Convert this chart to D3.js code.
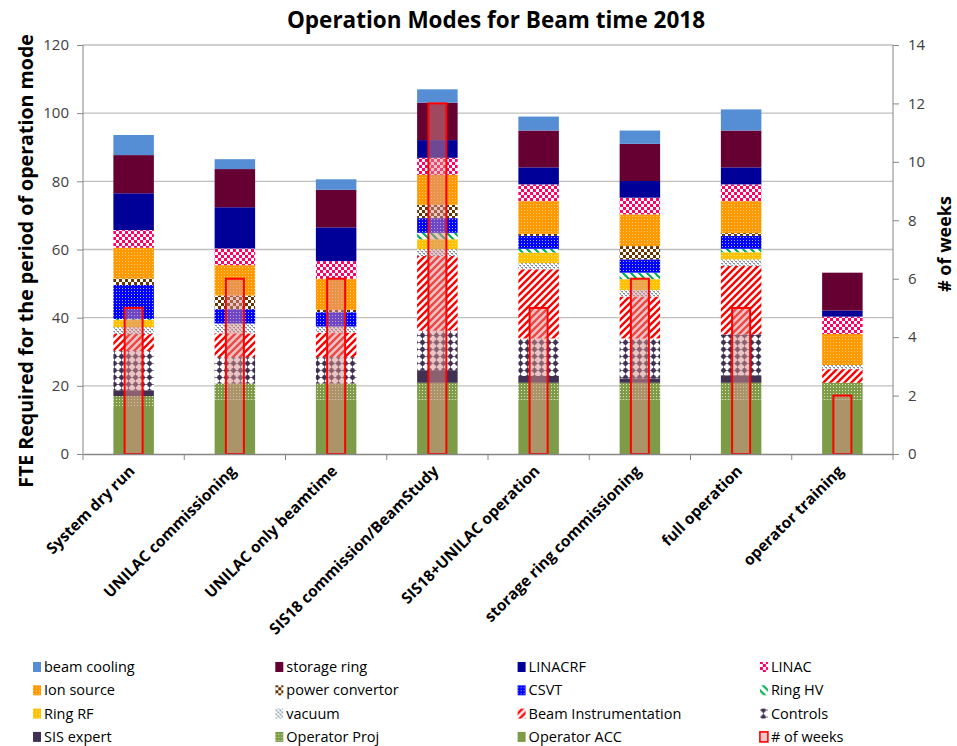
<!DOCTYPE html>
<html>
<head>
<meta charset="utf-8">
<script src="https://cdn.jsdelivr.net/npm/d3@7"></script>
<style>
    body { margin: 0; background: #fff; }
    #plot-canvas { width: 957px; height: 746px; }
    .tick text { font-family: "Open Sans", sans-serif; font-size: 15px; fill: #404040; }
    .label { font-family: "Open Sans", sans-serif; font-weight: bold; fill: #000; }
    .legend text { font-family: "Open Sans", sans-serif; font-size: 14.5px; fill: #000; }
</style>
</head>
<body>
<div id="plot-canvas"></div>
<script>
// categories (x axis)
const modes = ["System dry run", "UNILAC commissioning", "UNILAC only beamtime", "SIS18 commission/BeamStudy",
    "SIS18+UNILAC operation", "storage ring commissioning", "full operation", "operator training"];

// FTE per group, bottom of the stack first
const operatorAcc   = [13.5, 16, 16, 16, 16, 16, 16, 16];
const operatorProj  = [3.5, 4.7, 4.7, 4.9, 4.9, 4.9, 4.9, 4.9];
const sisExpert     = [1.7, 0, 0, 3.5, 2, 1.3, 2.2, 0];
const controls      = [11.5, 7.7, 7.7, 11.8, 11, 11.7, 12, 0];
const beamInstr     = [5, 7, 7.2, 21.9, 20.3, 12.3, 20.1, 4];
const vacuum        = [2, 2.9, 1.8, 2, 1.8, 1.9, 1.9, 1.2];
const ringRF        = [2.1, 0, 0, 2.9, 3.1, 3.2, 2.1, 0];
const ringHV        = [0.3, 0, 0, 1.9, 1.1, 1.9, 1, 0];
const csvt          = [10, 4.2, 4.2, 4.3, 3.8, 3.9, 3.8, 0];
const powerConv     = [1.9, 4, 0.7, 3.9, 0.6, 3.9, 0.8, 0];
const ionSource     = [9, 8.9, 9.1, 8.8, 9.6, 9.3, 9.4, 9.1];
const linac         = [5.2, 4.9, 5.2, 5, 4.9, 4.9, 4.9, 5.1];
const linacRF       = [10.8, 12.1, 9.9, 5.2, 5, 4.9, 5, 1.8];
const storageRing   = [11.2, 11.2, 11, 11, 10.8, 10.9, 10.8, 11.1];
const beamCooling   = [5.9, 2.9, 3.1, 3.9, 4.1, 3.9, 6.2, 0];

// secondary axis
const weeks = [5, 6, 6, 12, 5, 6, 5, 2];

const leftTicks = [0, 20, 40, 60, 80, 100, 120];
const rightTicks = [0, 2, 4, 6, 8, 10, 12, 14];

const series = [
    {name: "Operator ACC", values: operatorAcc, fill: "#7E9B47"},
    {name: "Operator Proj", values: operatorProj, fill: "url(#p-proj)"},
    {name: "SIS expert", values: sisExpert, fill: "#403152"},
    {name: "Controls", values: controls, fill: "url(#p-controls)"},
    {name: "Beam Instrumentation", values: beamInstr, fill: "url(#p-bi)"},
    {name: "vacuum", values: vacuum, fill: "url(#p-vacuum)"},
    {name: "Ring RF", values: ringRF, fill: "url(#p-ringrf)"},
    {name: "Ring HV", values: ringHV, fill: "url(#p-ringhv)"},
    {name: "CSVT", values: csvt, fill: "url(#p-csvt)"},
    {name: "power convertor", values: powerConv, fill: "url(#p-pc)"},
    {name: "Ion source", values: ionSource, fill: "url(#p-ion)"},
    {name: "LINAC", values: linac, fill: "url(#p-linac)"},
    {name: "LINACRF", values: linacRF, fill: "#000099"},
    {name: "storage ring", values: storageRing, fill: "#660033"},
    {name: "beam cooling", values: beamCooling, fill: "#558ED5"}
];

const margin = {top: 45, right: 64, bottom: 292, left: 83};
const width = 957 - margin.left - margin.right,
    height = 746 - margin.top - margin.bottom;

const svg = d3.select("#plot-canvas").append("svg")
    .attr("width", 957)
    .attr("height", 746);

// ---- patterns ----
const defs = svg.append("defs");

function addPattern(id, size, bg, draw) {
    let p = defs.append("pattern")
        .attr("id", id)
        .attr("patternUnits", "userSpaceOnUse")
        .attr("width", size)
        .attr("height", size);
    p.append("rect").attr("width", size).attr("height", size).attr("fill", bg);
    draw(p);
}

addPattern("p-proj", 3, "#7E9B47", function (p) {
    p.append("rect").attr("x", 0).attr("y", 0).attr("width", 1).attr("height", 1).attr("fill", "#dfe8cc");
});
addPattern("p-controls", 7, "#fff", function (p) {
    p.append("circle").attr("cx", 3.5).attr("cy", 3.5).attr("r", 2.4).attr("fill", "#403152");
    p.append("path").attr("d", "M3.5,0.3V6.7M0.3,3.5H6.7").attr("stroke", "#403152").attr("stroke-width", 1);
});
addPattern("p-bi", 7, "#fff", function (p) {
    p.append("path").attr("d", "M-2,9 L9,-2 M-2,2 L2,-2 M5,9 L9,5")
        .attr("stroke", "#FF0000").attr("stroke-width", 2.4);
});
addPattern("p-vacuum", 4, "#fff", function (p) {
    p.append("rect").attr("x", 0).attr("y", 0).attr("width", 2).attr("height", 1).attr("fill", "#7f8ea3");
    p.append("rect").attr("x", 2).attr("y", 2).attr("width", 2).attr("height", 1).attr("fill", "#7f8ea3");
    p.append("rect").attr("x", 1).attr("y", 1).attr("width", 1).attr("height", 1).attr("fill", "#aab4c4");
    p.append("rect").attr("x", 3).attr("y", 3).attr("width", 1).attr("height", 1).attr("fill", "#aab4c4");
});
addPattern("p-ringrf", 3, "#FFC000", function (p) {
    p.append("rect").attr("width", 1).attr("height", 1).attr("fill", "#ffe07a");
});
addPattern("p-ringhv", 8, "#fff", function (p) {
    p.append("path").attr("d", "M-2,-2 L10,10 M-2,6 L2,10 M6,-2 L10,2")
        .attr("stroke", "#00B050").attr("stroke-width", 2.2);
});
addPattern("p-csvt", 3, "#0000FF", function (p) {
    p.append("rect").attr("width", 1).attr("height", 1).attr("fill", "#b0b0ff");
});
addPattern("p-pc", 6, "#fff", function (p) {
    p.append("rect").attr("x", 0).attr("y", 0).attr("width", 3).attr("height", 3).attr("fill", "#663300");
    p.append("rect").attr("x", 3).attr("y", 3).attr("width", 3).attr("height", 3).attr("fill", "#663300");
});
addPattern("p-ion", 3, "#FF9900", function (p) {
    p.append("rect").attr("width", 1).attr("height", 1).attr("fill", "#ffcc80");
});
addPattern("p-linac", 6, "#fff", function (p) {
    p.append("rect").attr("x", 0).attr("y", 0).attr("width", 3).attr("height", 3).attr("fill", "#FF0066");
    p.append("rect").attr("x", 3).attr("y", 3).attr("width", 3).attr("height", 3).attr("fill", "#FF0066");
});

const g = svg.append("g").attr("transform", "translate(" + margin.left + "," + margin.top + ")");

// ---- scales ----
const x = d3.scaleBand().domain(modes).range([0, width]).paddingInner(0.6).paddingOuter(0.3);
const y = d3.scaleLinear().domain([0, 120]).range([height, 0]);
const y2 = d3.scaleLinear().domain([0, 14]).range([height, 0]);

// gridlines
g.append("g")
    .selectAll("line")
    .data(leftTicks.slice(1))
    .enter().append("line")
    .attr("x1", 0).attr("x2", width)
    .attr("y1", function (d) { return y(d); })
    .attr("y2", function (d) { return y(d); })
    .attr("stroke", "#BFBFBF")
    .attr("stroke-width", 1.3);

// stacked bars
const table = modes.map(function (m, i) {
    let row = {mode: m};
    series.forEach(function (s) { row[s.name] = s.values[i]; });
    return row;
});
const stacked = d3.stack().keys(series.map(function (s) { return s.name; }))(table);

g.selectAll(".layer")
    .data(stacked)
    .enter().append("g")
    .attr("class", "layer")
    .attr("fill", function (d, i) { return series[i].fill; })
    .selectAll("rect")
    .data(function (d) { return d; })
    .enter().append("rect")
    .attr("x", function (d) { return x(d.data.mode); })
    .attr("width", x.bandwidth())
    .attr("y", function (d) { return y(d[1]); })
    .attr("height", function (d) { return y(d[0]) - y(d[1]); });

// # of weeks
const weekWidth = 18;
g.selectAll(".weeks")
    .data(weeks)
    .enter().append("rect")
    .attr("class", "weeks")
    .attr("x", function (d, i) { return x(modes[i]) + x.bandwidth() / 2 - weekWidth / 2; })
    .attr("width", weekWidth)
    .attr("y", function (d) { return y2(d); })
    .attr("height", function (d) { return height - y2(d); })
    .attr("fill", "rgb(216,141,139)")
    .attr("fill-opacity", 0.51)
    .attr("stroke", "#FF0000")
    .attr("stroke-width", 2);

// axes
const xAxis = d3.axisBottom(x).tickSize(0).tickFormat("");
g.append("g")
    .attr("class", "axis")
    .attr("transform", "translate(0," + height + ")")
    .call(xAxis)
    .call(function (a) { a.select(".domain").attr("stroke", "#868686").attr("stroke-width", 1.3); });

// category separators
g.append("g")
    .selectAll("line")
    .data(d3.range(modes.length + 1))
    .enter().append("line")
    .attr("x1", function (d) { return d * x.step(); })
    .attr("x2", function (d) { return d * x.step(); })
    .attr("y1", height)
    .attr("y2", height + 6)
    .attr("stroke", "#868686");

g.append("g")
    .selectAll("text")
    .data(modes)
    .enter().append("text")
    .attr("class", "label")
    .attr("transform", function (d) {
        return "translate(" + (x(d) + x.bandwidth() / 2 + 2) + "," + (height + 18) + ") rotate(-45)";
    })
    .style("text-anchor", "end")
    .style("font-size", "15.5px")
    .text(function (d) { return d; });

const yAxis = d3.axisLeft(y).tickValues(leftTicks).tickSize(6).tickPadding(8);
g.append("g")
    .attr("class", "axis")
    .call(yAxis)
    .call(function (a) {
        a.selectAll("line, .domain").attr("stroke", "#868686");
        a.select(".domain").attr("d", "M0,0V" + height);
    });

const yAxis2 = d3.axisRight(y2).tickValues(rightTicks).tickSize(6).tickPadding(9);
g.append("g")
    .attr("class", "axis")
    .attr("transform", "translate(" + width + ",0)")
    .call(yAxis2)
    .call(function (a) {
        a.selectAll("line, .domain").attr("stroke", "#868686");
        a.select(".domain").attr("d", "M0,0V" + height);
    });

// titles
svg.append("text")
    .attr("class", "label")
    .attr("x", 496)
    .attr("y", 28)
    .style("text-anchor", "middle")
    .style("font-size", "22.5px")
    .text("Operation Modes for Beam time 2018");

svg.append("text")
    .attr("class", "label")
    .attr("transform", "translate(33,261) rotate(-90)")
    .style("text-anchor", "middle")
    .style("font-size", "19.6px")
    .text("FTE Required for the period of operation mode");

svg.append("text")
    .attr("class", "label")
    .attr("transform", "translate(951,244) rotate(-90)")
    .style("text-anchor", "middle")
    .style("font-size", "18px")
    .text("# of weeks");

// legend, 4 columns
const legendItems = series.slice().reverse().map(function (s) { return {name: s.name, fill: s.fill}; });
legendItems.push({name: "# of weeks", fill: "weeks"});

const legend = svg.append("g").attr("class", "legend");
const item = legend.selectAll("g")
    .data(legendItems)
    .enter().append("g")
    .attr("transform", function (d, i) {
        return "translate(" + (33 + (i % 4) * 242.3) + "," + (667 + Math.floor(i / 4) * 23.3) + ")";
    });

item.append("rect")
    .attr("x", 0).attr("y", -5)
    .attr("width", 8).attr("height", 10)
    .attr("fill", function (d) { return d.fill === "weeks" ? "rgb(240,200,200)" : d.fill; })
    .attr("stroke", function (d) { return d.fill === "weeks" ? "#FF0000" : "none"; })
    .attr("stroke-width", 1.6);

item.append("text")
    .attr("x", 11)
    .attr("y", 5)
    .text(function (d) { return d.name; });
</script>
</body>
</html>
